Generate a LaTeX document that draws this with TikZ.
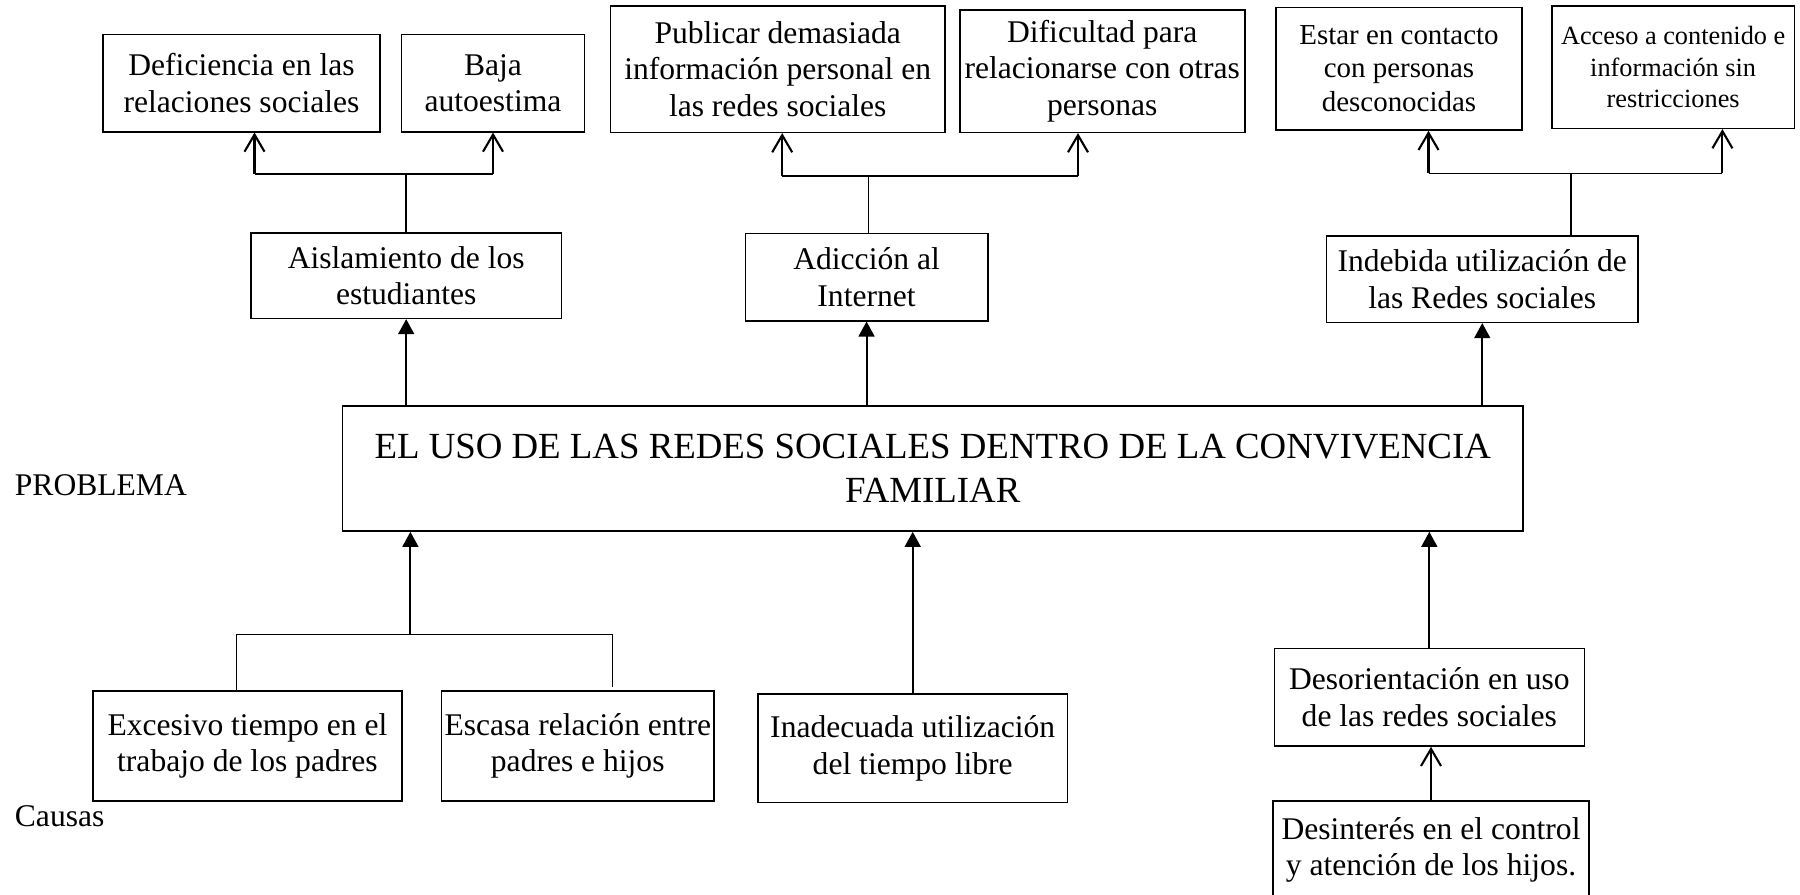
\documentclass[tikz,border=0pt]{standalone}
\usepackage{fontspec}
\setmainfont{Liberation Serif}
\usetikzlibrary{arrows.meta}
\newcommand\mkbox[6][]{%
  \node[box, #1, minimum width={(#4-#2)*0.38pt}, minimum height={(#5-#3)*0.38pt}]
    (#6) at ({(#2+#4)/2},{(#3+#5)/2})}
\begin{document}
\begin{tikzpicture}[x=0.38pt,y=-0.38pt,
  box/.style={draw, line width=0.6pt, inner sep=0pt, align=center, font=\fontsize{12}{13.9}\selectfont},
  openarrow/.style={line width=0.8pt, -{Straight Barb[length=6.5pt,width=7.6pt,line width=0.8pt]}},
  fillarrow/.style={line width=0.8pt, -{Triangle[length=5.7pt,width=6pt]}},
  link/.style={line width=0.6pt},
  lbl/.style={anchor=base west, inner sep=0pt, font=\fontsize{12}{13.9}\selectfont}]
\useasboundingbox (0,0) rectangle (1800,894);

% effects (top row)
\mkbox{103}{34.3}{380}{131.7}{def} {Deficiencia en las\\relaciones sociales};
\mkbox{401.5}{34.3}{584.4}{131.7}{baja} {Baja\\autoestima};
\mkbox{610.3}{5.7}{945.2}{132.3}{pub} {Publicar demasiada\\información personal en\\las redes sociales};
\mkbox{959.7}{9.7}{1244.8}{132.3}{dif} {Dificultad para\\relacionarse con otras\\personas};
\mkbox[font=\fontsize{11}{12.7}\selectfont]{1275.8}{7.3}{1522.2}{130}{est} {Estar en contacto\\con personas\\desconocidas};
\mkbox[font=\fontsize{10}{11.9}\selectfont]{1552}{5.7}{1794.3}{128.3}{acc} {Acceso a contenido e\\información sin\\restricciones};

% effects (second row)
\mkbox{251}{232.7}{561.4}{318.3}{ais} {Aislamiento de los\\estudiantes};
\mkbox{745.4}{233.3}{987.7}{320.7}{adi} {Adicción al\\Internet};
\mkbox{1326.3}{236}{1638.2}{322.3}{ind} {Indebida utilización de\\las Redes sociales};

% problem
\mkbox[font=\fontsize{14}{16.7}\selectfont]{342.7}{405.7}{1522.8}{531}{main} {EL USO DE LAS REDES SOCIALES DENTRO DE LA CONVIVENCIA\\FAMILIAR};

% causes
\mkbox{93}{690.7}{401.8}{800.7}{exc} {Excesivo tiempo en el\\trabajo de los padres};
\mkbox{441.4}{690.7}{714.1}{800.7}{esc} {Escasa relación entre\\padres e hijos};
\mkbox{757.8}{694}{1067.6}{802.3}{ina} {Inadecuada utilización\\del tiempo libre};
\mkbox{1274.3}{648.3}{1584.3}{746}{deso} {Desorientación en uso\\de las redes sociales};
\mkbox{1273}{801}{1589}{899}{desi} {Desinterés en el control\\y atención de los hijos.};

% labels
\node[lbl] (prob) at (14.4,495) {PROBLEMA};
\node[lbl] (caus) at (14.4,826.7) {Causas};

% top brackets
\coordinate (a1) at (254.5,174);
\coordinate (a2) at (493,174);
\draw[link] (ais.north) -- (ais.north |- a1);
\draw[link] (a1) -- (a2);
\draw[openarrow] (a1) -- (a1 |- def.south);
\draw[openarrow] (a2) -- (a2 |- baja.south);

\coordinate (b1) at (782.2,176);
\coordinate (b2) at (1078,176);
\coordinate (b0) at (868.3,176);
\draw[link] (b0 |- adi.north) -- (b0);
\draw[link] (b1) -- (b2);
\draw[openarrow] (b1) -- (b1 |- pub.south);
\draw[openarrow] (b2) -- (b2 |- dif.south);

\coordinate (c1) at (1428.5,173.3);
\coordinate (c2) at (1722.4,173.3);
\coordinate (c0) at (1571.2,173.3);
\draw[link] (c0 |- ind.north) -- (c0);
\draw[link] (c1) -- (c2);
\draw[openarrow] (c1) -- (c1 |- est.south);
\draw[openarrow] (c2) -- (c2 |- acc.south);

% problem to effects
\draw[fillarrow] (ais.south |- main.north) -- (ais.south);
\draw[fillarrow] (adi.south |- main.north) -- (adi.south);
\draw[fillarrow] (ind.south |- main.north) -- (ind.south);

% causes to problem
\coordinate (l1) at (236.5,634.3);
\coordinate (l2) at (612.5,634.3);
\coordinate (l0) at (410.4,634.3);
\draw[link] (l1 |- exc.north) -- (l1) -- (l2) -- ([yshift=1pt]l2 |- esc.north);
\draw[fillarrow] (l0) -- (l0 |- main.south);
\draw[fillarrow] (ina.north) -- (ina.north |- main.south);
\draw[fillarrow] (deso.north) -- (deso.north |- main.south);
\draw[openarrow] (desi.north) -- (desi.north |- deso.south);
\end{tikzpicture}
\end{document}
